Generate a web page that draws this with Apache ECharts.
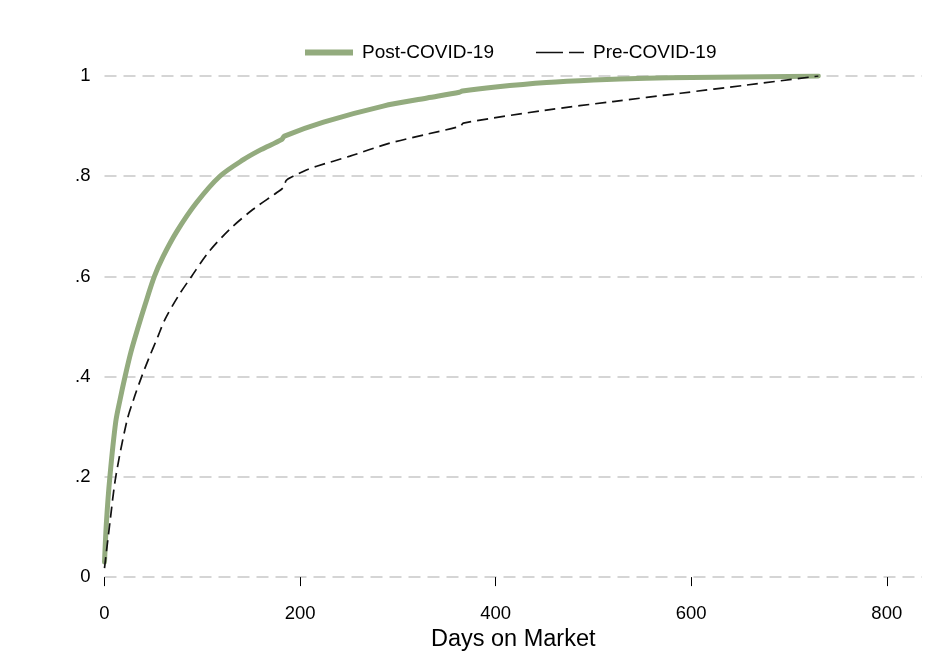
<!DOCTYPE html>
<html>
<head>
<meta charset="utf-8">
<script src="https://cdn.jsdelivr.net/npm/echarts@6/dist/echarts.min.js"></script>
<style>
html,body{margin:0;padding:0;background:#fff;}
#chart{width:936px;height:657px;}
</style>
</head>
<body>
<div id="chart"></div>
<script>
// Data
var postDays  = [0, 2, 5.5, 11.5, 16, 21, 27, 34.6, 41.4, 51, 60, 74, 94, 118, 142, 160, 181, 184, 224, 285, 330, 363, 366, 400, 452, 500, 554, 600, 650, 700, 730];
var postShare = [0.03, 0.11, 0.2, 0.31, 0.355, 0.40, 0.449, 0.50, 0.543, 0.60, 0.64, 0.69, 0.747, 0.80, 0.833, 0.853, 0.873, 0.880, 0.908, 0.940, 0.956, 0.9675, 0.970, 0.978, 0.987, 0.992, 0.9955, 0.997, 0.998, 0.999, 1.0];
var preDays   = [0, 5.6, 11.5, 22.7, 30, 38, 45, 55, 62, 75.5, 89, 106, 128, 152, 176, 183, 186, 193, 207, 217, 251, 290, 330, 364, 367, 452, 520, 589, 657, 730];
var preShare  = [0.018, 0.11, 0.2, 0.31, 0.356, 0.40, 0.435, 0.482, 0.515, 0.561, 0.60, 0.6475, 0.694, 0.734, 0.767, 0.778, 0.792, 0.80, 0.813, 0.82, 0.84, 0.865, 0.884, 0.90, 0.906, 0.932, 0.949, 0.9656, 0.982, 1.0];
var xTicks = [0, 200, 400, 600, 800];
var seriesNames = ['Post-COVID-19', 'Pre-COVID-19'];

function pairs(xs, ys) { return xs.map(function (x, i) { return [x, ys[i]]; }); }
function yLabel(v) {
  if (Math.abs(v) < 1e-9) return '0';
  if (Math.abs(v - 1) < 1e-9) return '1';
  return String(Math.round(v * 10) / 10).replace(/^0/, '');
}

var green = '#93ab7e';
var dark = '#111';
var font = 'Liberation Sans, Arial, sans-serif';
var chart = echarts.init(document.getElementById('chart'), null, {renderer: 'canvas'});
chart.setOption({
  animation: false,
  backgroundColor: '#fff',
  textStyle: {fontFamily: font},
  grid: {left: 104.5, right: 14, top: 76, bottom: 78, containLabel: false},
  legend: {
    left: 300, top: 38,
    itemWidth: 48, itemHeight: 14, itemGap: 42,
    symbolKeepAspect: true,
    textStyle: {fontFamily: font, fontSize: 19, color: '#000', padding: [0, 0, 0, 4]},
    data: [
      {name: seriesNames[0], icon: 'path://M0,0 L48,0 L48,6 L0,6 Z', itemStyle: {color: green}},
      {name: seriesNames[1], icon: 'path://M0,0 L27,0 L27,1.6 L0,1.6 Z M33,0 L48,0 L48,1.6 L33,1.6 Z', itemStyle: {color: dark}}
    ]
  },
  xAxis: {
    type: 'value', min: 0, max: 836,
    offset: 15,
    name: 'Days on Market', nameLocation: 'middle', nameGap: 34,
    nameTextStyle: {fontFamily: font, fontSize: 23.5, color: '#000'},
    axisLine: {show: false},
    axisTick: {show: true, length: 9, lineStyle: {color: '#000', width: 1}, customValues: xTicks},
    axisLabel: {fontFamily: font, fontSize: 18.5, color: '#000', margin: 12, customValues: xTicks},
    splitLine: {show: false}
  },
  yAxis: {
    type: 'value', min: 0, max: 1, interval: 0.2,
    axisLine: {show: false},
    axisTick: {show: false},
    axisLabel: {fontFamily: font, fontSize: 18.5, color: '#000', margin: 14, formatter: yLabel},
    splitLine: {show: true, lineStyle: {color: '#c8c8c8', width: 1.5, type: [12, 7]}}
  },
  series: [
    {
      name: seriesNames[0], type: 'line', data: pairs(postDays, postShare),
      showSymbol: false, symbol: 'none', smooth: 0.3,
      lineStyle: {color: green, width: 5, cap: 'round', join: 'round'},
      itemStyle: {color: green}, z: 2
    },
    {
      name: seriesNames[1], type: 'line', data: pairs(preDays, preShare),
      showSymbol: false, symbol: 'none', smooth: 0.3,
      lineStyle: {color: dark, width: 1.7, type: [11, 6]},
      itemStyle: {color: dark}, z: 3
    }
  ]
});
</script>
</body>
</html>
